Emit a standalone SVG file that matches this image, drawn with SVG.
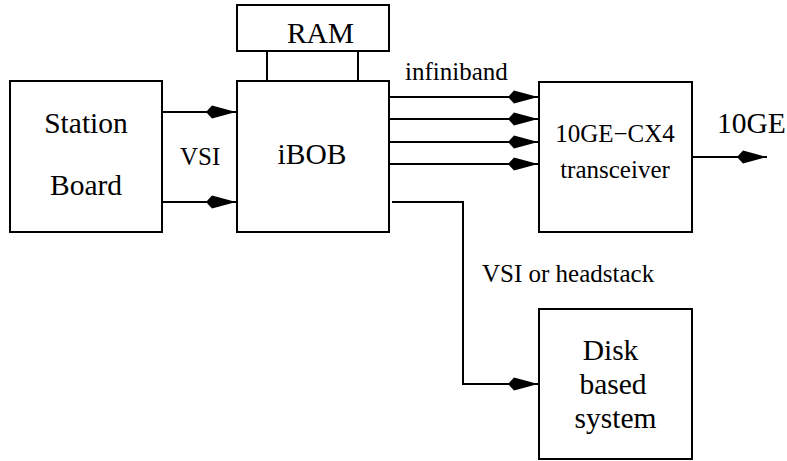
<svg xmlns="http://www.w3.org/2000/svg" width="787" height="461" viewBox="0 0 787 461">
<defs>
<style>
.box{fill:#fff;stroke:#000;stroke-width:2}
.ln{fill:none;stroke:#000;stroke-width:2}
text{font-family:'Liberation Serif','Times New Roman',serif;fill:#000}
.big{font-size:29.5px}
.sm{font-size:25px}
</style>
<marker id="kite" markerUnits="userSpaceOnUse" viewBox="-30 -7 31 14" refX="0" refY="0" markerWidth="31" markerHeight="14" orient="auto">
<path d="M0,0 L-24,-6.5 L-30,0 L-24,6.5 Z" fill="#000"/>
</marker>
</defs>
<rect width="787" height="461" fill="#fff"/>
<g id="connectors">
<line class="ln" x1="267" y1="51" x2="267" y2="81"/>
<line class="ln" x1="358" y1="51" x2="358" y2="81"/>
<line class="ln" x1="162" y1="112" x2="236" y2="112" marker-end="url(#kite)"/>
<line class="ln" x1="162" y1="202" x2="236" y2="202" marker-end="url(#kite)"/>
<line class="ln" x1="389" y1="97" x2="538" y2="97" marker-end="url(#kite)"/>
<line class="ln" x1="389" y1="119" x2="538" y2="119" marker-end="url(#kite)"/>
<line class="ln" x1="389" y1="142" x2="538" y2="142" marker-end="url(#kite)"/>
<line class="ln" x1="389" y1="164" x2="538" y2="164" marker-end="url(#kite)"/>
<line class="ln" x1="692" y1="157" x2="767" y2="157" marker-end="url(#kite)"/>
<polyline class="ln" points="392,202 463,202 463,384 538,384" marker-end="url(#kite)"/>
<text class="sm" x="180" y="165">VSI</text>
<text class="sm" x="405" y="80">infiniband</text>
<text class="big" x="717" y="133">10GE</text>
<text class="sm" x="482" y="282">VSI or headstack</text>
</g>
<g id="station-board">
<rect class="box" x="10" y="81" width="152" height="151"/>
<text class="big" x="86" y="133" text-anchor="middle">Station</text>
<text class="big" x="86" y="195" text-anchor="middle">Board</text>
</g>
<g id="ram">
<rect class="box" x="237" y="5" width="152" height="46"/>
<text class="big" x="320.5" y="43" text-anchor="middle">RAM</text>
</g>
<g id="ibob">
<rect class="box" x="237" y="81" width="152" height="151"/>
<text class="big" x="312" y="164" text-anchor="middle">iBOB</text>
</g>
<g id="transceiver">
<rect class="box" x="539" y="82" width="153" height="150"/>
<text class="sm" x="615" y="142" text-anchor="middle">10GE−CX4</text>
<text class="sm" x="615" y="178" text-anchor="middle">transceiver</text>
</g>
<g id="disk">
<rect class="box" x="539" y="309" width="153" height="150"/>
<text class="big" x="610.5" y="360" text-anchor="middle">Disk</text>
<text class="big" x="613" y="394" text-anchor="middle">based</text>
<text class="big" x="615.5" y="428" text-anchor="middle">system</text>
</g>
</svg>
